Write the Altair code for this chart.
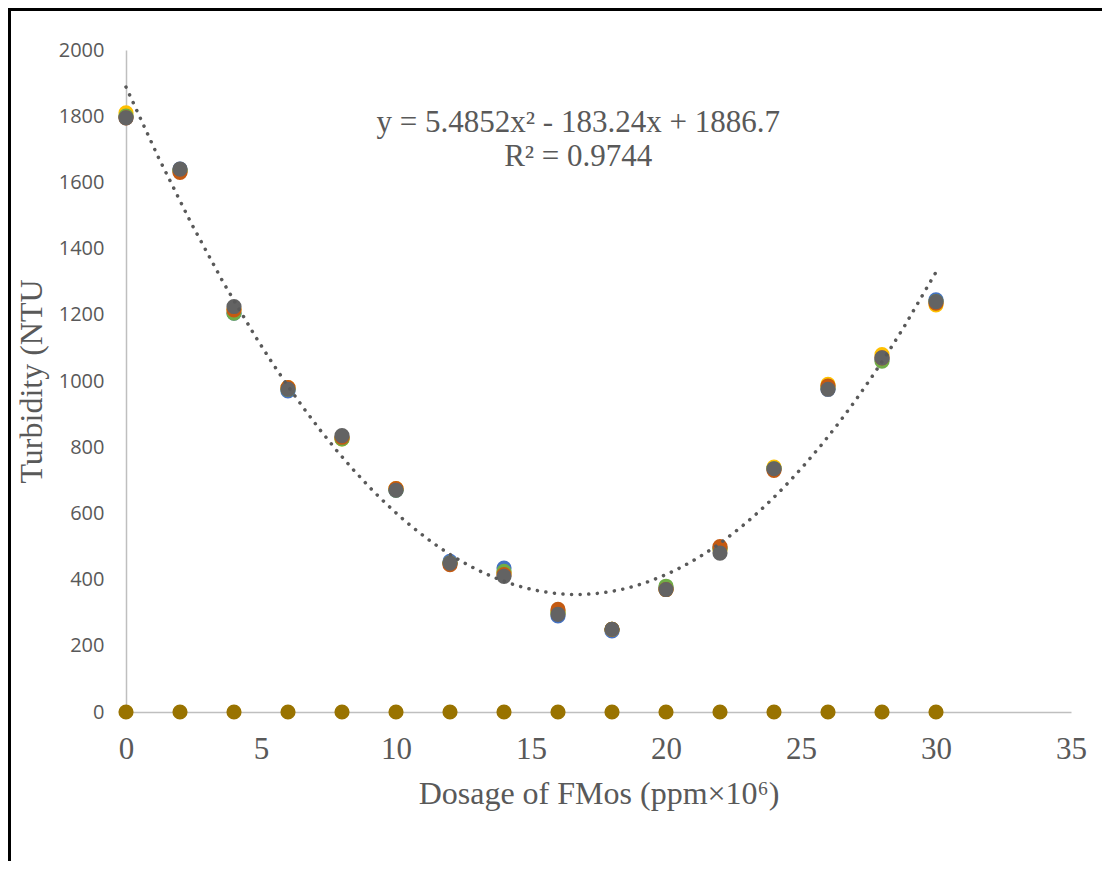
import altair as alt
import pandas as pd

dosage = [0, 2, 4, 6, 8, 10, 12, 14, 16, 18, 20, 22, 24, 26, 28, 30]
blue = [1800, 1640, 1205, 970, 830, 670, 455, 435, 290, 245, 375, 495, 735, 975, 1065, 1245]
yellow = [1810, 1635, 1215, 980, 825, 675, 450, 420, 300, 250, 370, 490, 740, 990, 1080, 1230]
green = [1800, 1635, 1205, 975, 825, 670, 450, 425, 300, 250, 380, 495, 735, 980, 1060, 1240]
brown = [1795, 1630, 1215, 980, 830, 675, 445, 415, 310, 250, 370, 500, 730, 985, 1070, 1235]
gray = [1795, 1640, 1225, 975, 835, 670, 450, 410, 295, 250, 370, 480, 735, 975, 1070, 1240]
zero = [0] * 16

series_names = ["S1", "S2", "S3", "S4", "S5", "S6"]
series_values = [blue, yellow, green, brown, zero, gray]
series_colors = ["#4472C4", "#FFC000", "#70AD47", "#C55A11", "#997300", "#636363"]

rows = []
for i, (name, vals) in enumerate(zip(series_names, series_values)):
    for x, y in zip(dosage, vals):
        rows.append({"Dosage": x, "Turbidity": y, "Series": name, "ord": i})
df = pd.DataFrame(rows)

eq_lines = ["y = 5.4852x\u00b2 - 183.24x + 1886.7", "R\u00b2 = 0.9744"]
eq_x = [16.75, 16.75]
eq_y = [1780, 1677]
eq_df = pd.DataFrame({"label": eq_lines, "x": eq_x, "y": eq_y})

xscale = alt.Scale(domain=[0, 35], nice=False, zero=True)
yscale = alt.Scale(domain=[0, 2000], nice=False)

x_axis = alt.Axis(
    values=[0, 5, 10, 15, 20, 25, 30, 35], grid=False, ticks=False,
    labelFont="Liberation Serif", labelFontSize=31, labelColor="#595959",
    labelPadding=22, labelFlush=False, labelOverlap=False,
    title="Dosage of FMos (ppm\u00d710\u2076)", titleFont="Liberation Serif",
    titleFontSize=32, titleColor="#595959", titleFontWeight="normal", titlePadding=14,
    domainColor="#BFBFBF", domainWidth=1.5,
)
y_axis = alt.Axis(
    values=list(range(0, 2001, 200)), format="d", grid=False, ticks=False,
    labelFont="Open Sans", labelFontSize=20, labelColor="#595959",
    labelPadding=22, labelFlush=False, labelOverlap=False,
    title="Turbidity (NTU", titleFont="Liberation Serif", titleFontSize=32,
    titleColor="#595959", titleFontWeight="normal", titlePadding=10,
    domainColor="#BFBFBF", domainWidth=1.5,
)

base = alt.Chart(df)

points = base.mark_circle(size=230, opacity=1).encode(
    x=alt.X("Dosage:Q", scale=xscale, axis=x_axis),
    y=alt.Y("Turbidity:Q", scale=yscale, axis=y_axis),
    color=alt.Color("Series:N", scale=alt.Scale(domain=series_names, range=series_colors), legend=None),
    order=alt.Order("ord:Q"),
)

trend = base.transform_filter(alt.datum.Series == "S6").transform_regression(
    "Dosage", "Turbidity", method="poly", order=2, extent=[0, 30]
).mark_line(color="#595959", strokeWidth=3.5, strokeDash=[0.1, 8.5], strokeCap="round").encode(
    x=alt.X("Dosage:Q", scale=xscale),
    y=alt.Y("Turbidity:Q", scale=yscale),
)

eq = alt.Chart(eq_df).mark_text(
    font="Liberation Serif", fontSize=31, color="#595959", align="center", baseline="middle"
).encode(
    x=alt.X("x:Q", scale=xscale),
    y=alt.Y("y:Q", scale=yscale),
    text="label:N",
)

frame_left = alt.Chart(df).mark_rule(color="#000000", strokeWidth=2.5).encode(
    x=alt.value(-117), y=alt.value(-41), y2=alt.value(811)
)
frame_top = alt.Chart(df).mark_rule(color="#000000", strokeWidth=2.5).encode(
    y=alt.value(-41), x=alt.value(-118), x2=alt.value(976)
)

chart = alt.layer(points, trend, eq, frame_left, frame_top).properties(
    width=945, height=662,
    padding={"left": 118, "top": 42, "right": 31, "bottom": 149},
    autosize=alt.AutoSizeParams(type="none"),
    background="white",
).configure_view(stroke=None)

chart.save("out.html", embed_options={"renderer": "svg", "actions": False})
